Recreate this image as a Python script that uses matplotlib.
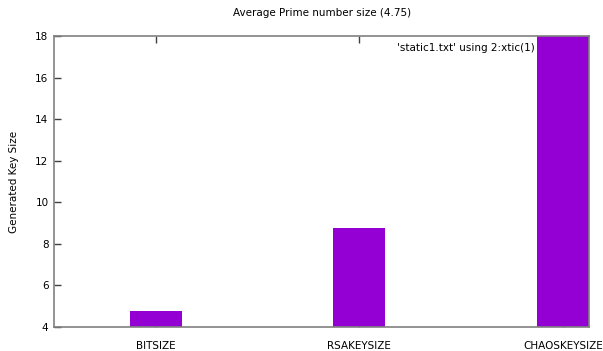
import matplotlib
matplotlib.use("Agg")
import matplotlib.pyplot as plt
import numpy as np

# key sizes per category (column 2 of static1.txt)
categories = ["BITSIZE", "RSAKEYSIZE", "CHAOSKEYSIZE"]
key_sizes = [4.75, 8.75, 18.0]
yticks = [4, 6, 8, 10, 12, 14, 16, 18]

plt.rcParams['font.family'] = ['DejaVu Sans']
fig = plt.figure(figsize=(6.03, 3.51), dpi=100)
ax = fig.add_axes([54 / 603, 24 / 351, 535 / 603, 291 / 351])

x = np.arange(len(categories))
ax.bar(x, key_sizes, width=0.256, bottom=0, color="#9400d3", zorder=2)

ax.set_xlim(-0.5, 2.128)
ax.set_ylim(4, 18)
ax.set_yticks(yticks)
ax.set_xticks(x)
ax.set_xticklabels(categories)
ax.tick_params(axis="both", direction="in", labelsize=7.5, color="#404040",
               length=5, width=1)
ax.tick_params(axis="x", top=True, pad=10)
ax.tick_params(axis="y", pad=4)
for s in ax.spines.values():
    s.set_color("#808080")
    s.set_linewidth(1.2)

ax.set_ylabel("Generated Key Size", fontsize=7.5, labelpad=12)
fig.text(322 / 603, 1 - 13 / 351, "Average Prime number size (4.75)",
         ha="center", va="center", fontsize=7.5)
fig.text(535 / 603, 1 - 48 / 351, "'static1.txt' using 2:xtic(1)",
         ha="right", va="center", fontsize=7.5)

fig.savefig("out.png", dpi=100)
